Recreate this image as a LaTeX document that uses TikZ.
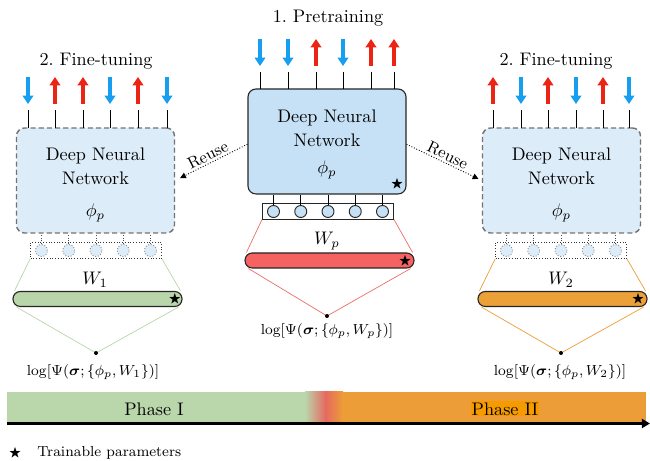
\documentclass[tikz,border=0pt]{standalone}
\usepackage{amsmath,amssymb}
\usetikzlibrary{arrows.meta,calc,backgrounds}

\definecolor{preblue}{RGB}{198,225,245}
\definecolor{fineblue}{RGB}{221,236,249}
\definecolor{downblue}{RGB}{22,158,240}
\definecolor{upred}{RGB}{236,36,20}
\definecolor{wred}{RGB}{244,98,98}
\definecolor{wredline}{RGB}{236,112,106}
\definecolor{wgreen}{RGB}{185,214,170}
\definecolor{worange}{RGB}{236,160,56}
\definecolor{phgreen}{RGB}{186,214,171}
\definecolor{phred}{RGB}{230,104,96}
\definecolor{phorange}{RGB}{236,157,56}
\definecolor{phIIfill}{RGB}{245,155,0}

\begin{document}
\begin{tikzpicture}[x=0.55pt,y=-0.55pt,
  net/.style={rounded corners=4.4pt, minimum width=158*0.55pt,
    minimum height=105*0.55pt, inner sep=0pt},
  prenet/.style={net, draw=black!85, fill=preblue, line width=0.6pt},
  finenet/.style={net, draw=black!55, fill=fineblue, line width=0.8pt,
    dash pattern=on 2.8pt off 1.7pt},
  nettext/.style={align=center, inner sep=0pt},
  spin/.style={line width=1.7pt, -{Triangle[width=5.8pt,length=4.6pt]}},
  stem/.style={line width=0.5pt},
  layerbox/.style={minimum width=131*0.55pt, minimum height=16*0.55pt,
    inner sep=0pt},
  prelayer/.style={layerbox, draw=black!85, line width=0.5pt},
  finelayer/.style={layerbox, draw=black!80, line width=0.5pt, densely dotted},
  neuron/.style={circle, minimum size=12*0.55pt, inner sep=0pt},
  preneuron/.style={neuron, draw=black!85, fill=preblue, line width=0.5pt},
  fineneuron/.style={neuron, draw=black!45, fill=fineblue, line width=0.5pt,
    densely dotted},
  wbar/.style={rounded corners=4pt, minimum width=169*0.55pt,
    minimum height=15*0.55pt, inner sep=0pt, draw=black!85, line width=0.6pt},
  reuse/.style={line width=0.5pt, densely dotted,
    -{Triangle[width=3.2pt,length=3.2pt]}},
  reuselabel/.style={sloped, above, font=\small, inner sep=1pt},
  tstar/.style={inner sep=0pt, font=\scriptsize},
  outdot/.style={circle, fill=black, minimum size=4*0.55pt, inner sep=0pt},
  formula/.style={font=\footnotesize, inner sep=0pt},
  title/.style={inner sep=0pt}]

\useasboundingbox (0,0) rectangle (650,461);

% ---------- titles ----------
\node[title] (t-pre) at (328,18) {1.\ Pretraining};
\node[title] (t-ft1) at (96,61) {2.\ Fine-tuning};
\node[title] (t-ft2) at (556,61) {2.\ Fine-tuning};

% ---------- networks ----------
\node[prenet]  (cbox) at (327,141.5) {};
\node[finenet] (lbox) at (95.5,180.5) {};
\node[finenet] (rbox) at (561.5,180.5) {};

\node[nettext] (ctext) at (327,128.5) {Deep Neural\\[1pt]Network};
\node[nettext] (cphi) at (327,170) {$\phi_p$};
\node[nettext] (ltext) at (95.5,166.5) {Deep Neural\\[1pt]Network};
\node[nettext] (lphi) at (95.5,213) {$\phi_p$};
\node[nettext] (rtext) at (561.5,166.5) {Deep Neural\\[1pt]Network};
\node[nettext] (rphi) at (561.5,213) {$\phi_p$};

\node[tstar] (cstar) at (397,184) {$\bigstar$};

% ---------- spins above the networks ----------
\foreach \x/\c/\ya/\yb [count=\i] in {260/downblue/39/66, 288/downblue/39/66,
    316/upred/66/39, 343/downblue/39/66, 371/upred/66/39, 394/upred/66/39} {
  \coordinate (cs-top-\i) at (\x,72);
  \coordinate (cs-bot-\i) at (\x,89);
  \draw[stem] (cs-top-\i) -- (cs-bot-\i);
  \coordinate (ca-\i) at (\x,\ya);
  \coordinate (cb-\i) at (\x,\yb);
  \draw[spin, draw=\c] (ca-\i) -- (cb-\i);
}
\foreach \x/\c/\ya/\yb [count=\i] in {28/downblue/77/104, 55/upred/104/77,
    83/upred/104/77, 110/downblue/77/104, 138/upred/104/77, 167/downblue/77/104} {
  \coordinate (ls-top-\i) at (\x,110);
  \coordinate (ls-bot-\i) at (\x,128);
  \draw[stem] (ls-top-\i) -- (ls-bot-\i);
  \coordinate (la-\i) at (\x,\ya);
  \coordinate (lb-\i) at (\x,\yb);
  \draw[spin, draw=\c] (la-\i) -- (lb-\i);
}
\foreach \x/\c/\ya/\yb [count=\i] in {493/upred/104/77, 521/downblue/77/104,
    548/upred/104/77, 576/downblue/77/104, 603/upred/104/77, 629/downblue/77/104} {
  \coordinate (rs-top-\i) at (\x,110);
  \coordinate (rs-bot-\i) at (\x,128);
  \draw[stem] (rs-top-\i) -- (rs-bot-\i);
  \coordinate (ra-\i) at (\x,\ya);
  \coordinate (rb-\i) at (\x,\yb);
  \draw[spin, draw=\c] (ra-\i) -- (rb-\i);
}

% ---------- reuse arrows ----------
\draw[reuse, shorten >=3pt] ([yshift=-1.5pt]cbox.west) --
  node[reuselabel] {Reuse} (lbox.east);
\draw[reuse, shorten >=2pt] ([yshift=-1.5pt]cbox.east) --
  node[reuselabel] {Reuse} (rbox.west);

% ---------- output layers ----------
\node[prelayer]  (clayer) at (328,211) {};
\node[finelayer] (llayer) at (96,250.5) {};
\node[finelayer] (rlayer) at (561,250.5) {};

\foreach \dx [count=\i] in {-54.5,-27.25,0,27.25,54.5} {
  \node[preneuron] (cn-\i) at ($(clayer)+(\dx,0.5)$) {};
  \draw[stem] (cn-\i.north) -- (cn-\i.north |- cbox.south);
  \node[fineneuron] (ln-\i) at ($(llayer)+(\dx,0)$) {};
  \draw[stem, densely dotted, black!70] (ln-\i.north) -- (ln-\i.north |- lbox.south);
  \node[fineneuron] (rn-\i) at ($(rlayer)+(\dx,0)$) {};
  \draw[stem, densely dotted, black!70] (rn-\i.north) -- (rn-\i.north |- rbox.south);
}

% ---------- weight bars ----------
\node[wbar, fill=wred]    (Wp) at (329.5,260.5) {};
\node[wbar, fill=wgreen]  (W1) at (97.5,299) {};
\node[wbar, fill=worange] (W2) at (562.5,299) {};

\node[tstar] (wpstar) at (405,261) {$\bigstar$};
\node[tstar] (w1star) at (175,299) {$\bigstar$};
\node[tstar] (w2star) at (638,299) {$\bigstar$};

\node[inner sep=0pt] (Wp-lab) at (327,241) {$W_p$};
\node[inner sep=0pt] (W1-lab) at (95,280) {$W_1$};
\node[inner sep=0pt] (W2-lab) at (561,280) {$W_2$};

% ---------- outputs ----------
\node[outdot] (pdot) at (327,316) {};
\node[outdot] (ldot) at (96,353) {};
\node[outdot] (rdot) at (561,353) {};

\node[formula] (pform) at (327,331) {$\log[\Psi(\boldsymbol{\sigma};\{\phi_p,W_p\})]$};
\node[formula] (lform) at (93,372) {$\log[\Psi(\boldsymbol{\sigma};\{\phi_p,W_1\})]$};
\node[formula] (rform) at (560,372) {$\log[\Psi(\boldsymbol{\sigma};\{\phi_p,W_2\})]$};

\begin{scope}[on background layer, line width=0.75pt]
  \draw[wredline] (clayer.south west) -- ($(Wp.north west)+(2,0)$);
  \draw[wredline] (clayer.south east) -- ($(Wp.north east)+(-2,0)$);
  \draw[wredline] ($(Wp.south west)+(4,0)$) -- (pdot.center) -- ($(Wp.south east)+(-4,0)$);
  \draw[wgreen] (llayer.south west) -- ($(W1.north west)+(2,0)$);
  \draw[wgreen] (llayer.south east) -- ($(W1.north east)+(-2,0)$);
  \draw[wgreen] ($(W1.south west)+(4,0)$) -- (ldot.center) -- ($(W1.south east)+(-4,0)$);
  \draw[worange] (rlayer.south west) -- ($(W2.north west)+(2,0)$);
  \draw[worange] (rlayer.south east) -- ($(W2.north east)+(-2,0)$);
  \draw[worange] ($(W2.south west)+(4,0)$) -- (rdot.center) -- ($(W2.south east)+(-4,0)$);
\end{scope}

% ---------- phase timeline ----------
\fill[phgreen] (7,392) rectangle (306,423);
\shade[left color=phgreen, right color=phred] (305,392) rectangle (326,423);
\shade[left color=phred, right color=phorange] (325,392) rectangle (343,423);
\fill[phorange] (342,392) rectangle (646,423);

\node[inner sep=0pt] (ph1) at (154,409) {Phase I};
\node[inner sep=0.6pt, fill=phIIfill] (ph2) at (505,409) {Phase II};

\coordinate (tl-start) at (7,423.5);
\coordinate (tl-end) at (650,423.5);
\draw[line width=1.4pt, -{Triangle[width=5pt,length=4.5pt]}] (tl-start) -- (tl-end);

% ---------- legend ----------
\node[tstar] (legstar) at (15,453) {$\bigstar$};
\node[anchor=west, font=\footnotesize, inner sep=0pt] (legtext) at (37,453) {Trainable parameters};

\end{tikzpicture}
\end{document}
